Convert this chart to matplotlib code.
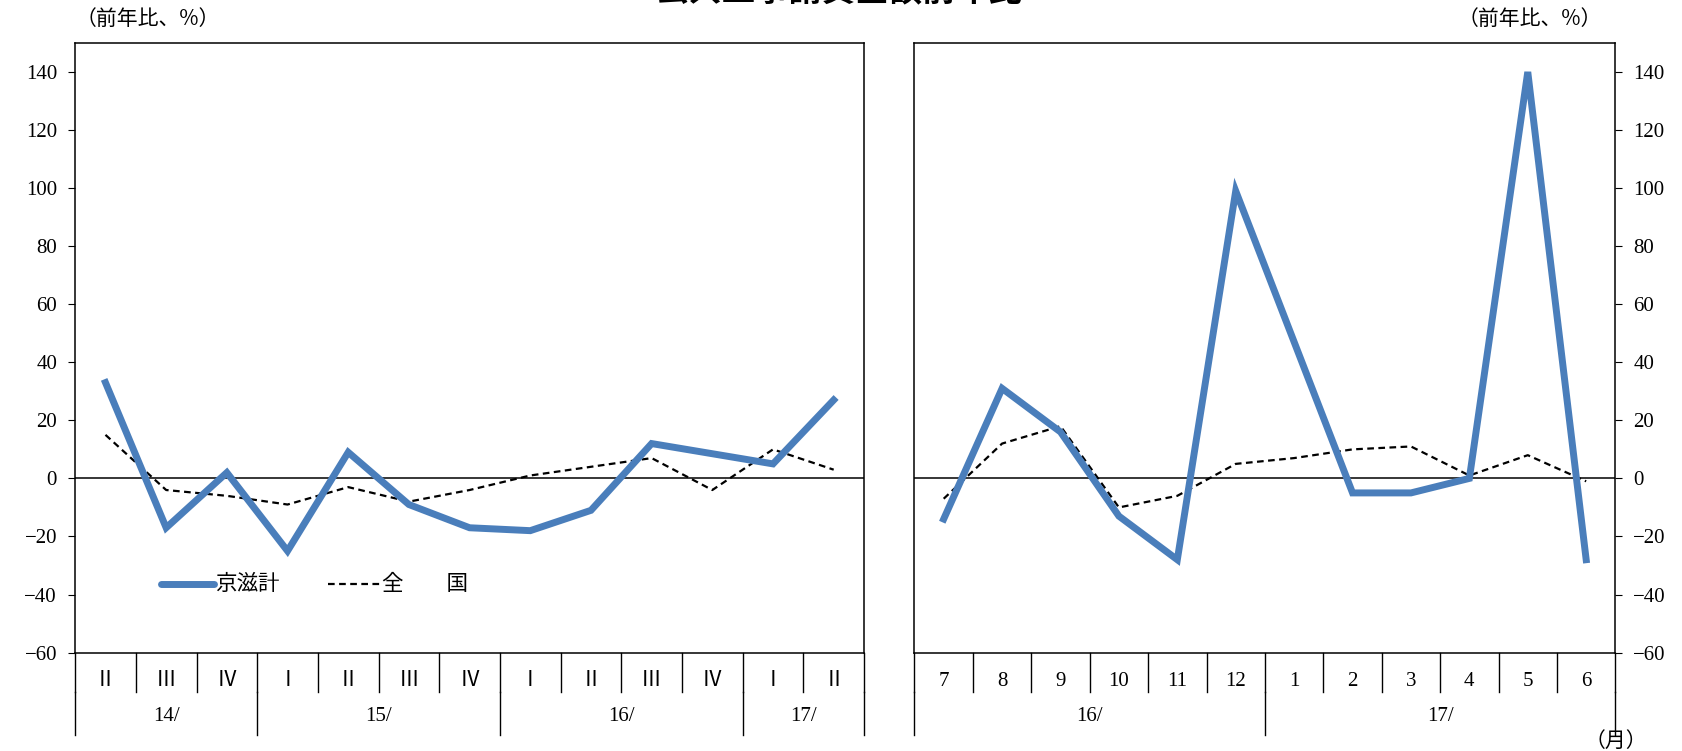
import matplotlib.pyplot as plt

plt.rcParams['font.family'] = ['Liberation Serif', 'Noto Sans CJK JP', 'DejaVu Sans']

# left panel: quarterly
q_labels = ['Ⅱ', 'Ⅲ', 'Ⅳ', 'Ⅰ', 'Ⅱ', 'Ⅲ', 'Ⅳ', 'Ⅰ', 'Ⅱ', 'Ⅲ', 'Ⅳ', 'Ⅰ', 'Ⅱ']
q_years = [('14/', 0, 2), ('15/', 3, 6), ('16/', 7, 10), ('17/', 11, 12)]
q_kyoto = [33, -17, 2, -25, 9, -9, -17, -18, -11, 12, 8.5, 5, 27]
q_japan = [15, -4, -6, -9, -3, -8, -4, 1, 4, 7, -4, 10, 3]

# right panel: monthly
m_labels = ['7', '8', '9', '10', '11', '12', '1', '2', '3', '4', '5', '6']
m_years = [('16/', 0, 5), ('17/', 6, 11)]
m_kyoto = [-14, 31, 16, -13, -28, 99, 47, -5, -5, 0, 140, -28]
m_japan = [-7, 12, 18, -10, -6, 5, 7, 10, 11, 1, 8, -1]

blue = '#4a7ebb'
W, H = 1683, 751
S = 1683 / 1568  # layout measured on a 1568-wide view
fig = plt.figure(figsize=(W / 100, H / 100), dpi=100)

def axes_px(x0, x1, y0, y1):
    x0, x1, y0, y1 = x0 * S, x1 * S, y0 * S, y1 * S
    return fig.add_axes([x0 / W, 1 - y1 / H, (x1 - x0) / W, (y1 - y0) / H])

def fx(px):
    return px * S / W

def fy(px):
    return 1 - px * S / H

ax1 = axes_px(70, 805, 40, 608)
ax2 = axes_px(852, 1505, 40, 608)

jp = ['Noto Sans CJK JP']
fs = 15

def setup(ax, labels, years, kyoto, japan, right):
    n = len(labels)
    x = list(range(n))
    ax.plot(x, kyoto, color=blue, lw=5, solid_joinstyle='miter', zorder=3)
    ax.plot(x, japan, color='black', lw=1.6, ls=(0, (3, 2)), zorder=2)
    ax.axhline(0, color='black', lw=1.1)
    ax.set_xlim(-0.5, n - 0.5)
    ax.set_ylim(-60, 150)
    ax.set_yticks(range(-60, 141, 20))
    ax.set_xticks([])
    ax.tick_params(axis='y', labelsize=fs, direction='out', length=5, pad=8)
    if right:
        ax.yaxis.tick_right()
    for s in ax.spines.values():
        s.set_linewidth(1.1)
    tr = ax.get_xaxis_transform()
    # category band
    for i in range(n + 1):
        ax.plot([i - 0.5, i - 0.5], [0, -0.065], color='black', lw=1, transform=tr, clip_on=False)
    for i, lab in enumerate(labels):
        ax.text(i, -0.048, lab, ha='center', va='center', fontsize=fs, transform=tr)
    for name, a, b in years:
        ax.plot([a - 0.5, a - 0.5], [-0.065, -0.135], color='black', lw=1, transform=tr, clip_on=False)
        ax.text((a + b) / 2, -0.105, name, ha='center', va='center', fontsize=fs, transform=tr)
    ax.plot([n - 0.5, n - 0.5], [-0.065, -0.135], color='black', lw=1, transform=tr, clip_on=False)

setup(ax1, q_labels, q_years, q_kyoto, q_japan, False)
setup(ax2, m_labels, m_years, m_kyoto, m_japan, True)

# legend drawn by hand (pixel positions)
ly = fy(544)
fig.add_artist(plt.Line2D([fx(150), fx(199)], [ly, ly], color=blue, lw=5, solid_capstyle='round'))
fig.text(fx(200), ly, '京滋計', ha='left', va='center', fontsize=15.5, family=jp)
fig.add_artist(plt.Line2D([fx(306), fx(354)], [ly, ly], color='black', lw=1.6, ls=(0, (3, 2))))
fig.text(fx(356), ly, '全　　国', ha='left', va='center', fontsize=15.5, family=jp)

fig.text(fx(138), fy(18), '（前年比、%）', ha='center', va='center', fontsize=fs, family=jp)
fig.text(fx(1425), fy(18), '（前年比、%）', ha='center', va='center', fontsize=fs, family=jp)
fig.text(fx(1505), fy(690), '（月）', ha='center', va='center', fontsize=fs, family=jp)
fig.text(fx(782), fy(-8), '公共工事請負金額前年比', ha='center', va='center', fontsize=24,
         fontweight='bold', family=jp)

fig.savefig('out.png', dpi=100, facecolor='white')
